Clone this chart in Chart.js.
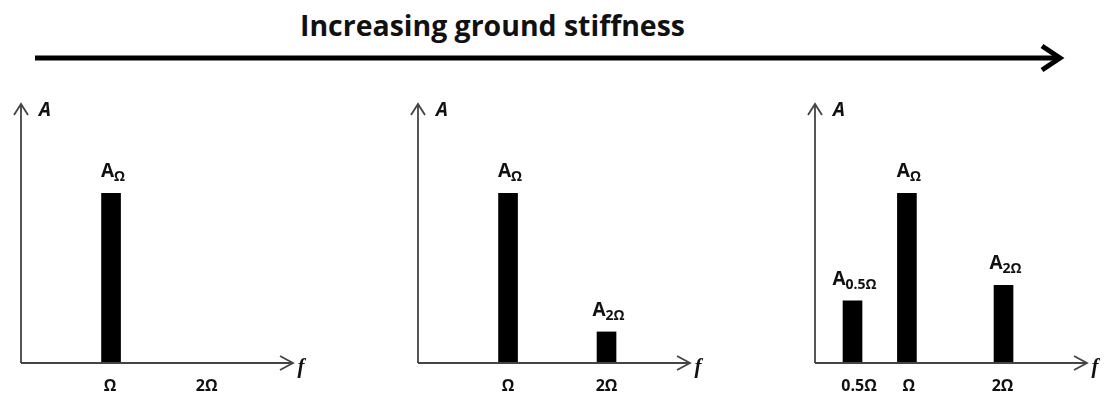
<!DOCTYPE html>
<html>
<head>
<meta charset="utf-8">
<script src="https://cdn.jsdelivr.net/npm/chart.js@4/dist/chart.umd.min.js"></script>
<style>
	html, body { margin: 0; padding: 0; background: #fff; }
	body { width: 1108px; height: 396px; position: relative; overflow: hidden; }
	#title { position: absolute; left: 300px; top: 6px; transform-origin: 0 50%;
		font: bold 28px 'Open Sans', sans-serif; color: #111; white-space: nowrap; line-height: 38px; }
	#arrow { position: absolute; left: 0; top: 0; }
	.panel { position: absolute; top: 90px; width: 310px; height: 306px; }
</style>
</head>
<body>
<div id="title">Increasing ground stiffness</div>
<svg id="arrow" width="1108" height="80">
	<line x1="35" y1="58" x2="1058" y2="58" stroke="#000" stroke-width="5"/>
	<polyline points="1042,46 1060,58 1042,70" fill="none" stroke="#000" stroke-width="5" stroke-linejoin="miter"/>
</svg>
<div class="panel" style="left:1px"><canvas id="panel-1" width="310" height="306"></canvas></div>
<div class="panel" style="left:398px"><canvas id="panel-2" width="310" height="306"></canvas></div>
<div class="panel" style="left:795px"><canvas id="panel-3" width="310" height="306"></canvas></div>
<script>
	// Soft ground: only the driving frequency
	const soft_freq = [0.96];
	const soft_amp = [65.5];
	const soft_sub = ['Ω'];
	const soft_ticks = [0.95, 1.98];
	const soft_tick_labels = ['Ω', '2Ω'];

	// Medium ground: a second harmonic shows up
	const medium_freq = [0.96, 2.01];
	const medium_amp = [65.5, 12];
	const medium_sub = ['Ω', '2Ω'];
	const medium_ticks = [0.96, 2.01];
	const medium_tick_labels = ['Ω', '2Ω'];

	// Stiff ground: sub-harmonic too
	const stiff_freq = [0.40, 0.98, 2.01];
	const stiff_amp = [24, 65.5, 30];
	const stiff_sub = ['0.5Ω', 'Ω', '2Ω'];
	const stiff_ticks = [0.47, 1.0, 2.0];
	const stiff_tick_labels = ['0.5Ω', 'Ω', '2Ω'];

	const FONT = "'Open Sans', sans-serif";
	const AXIS_COLOR = '#444';
	const TEXT_COLOR = '#111';

	// squeeze the title to the width it has in the picture
	const title = document.getElementById('title');
	title.style.transform = 'scaleX(' + (385 / title.offsetWidth) + ')';

	const axesPlugin = {
		id: 'spectrumAxes',
		afterDraw: function (chart) {
			const ctx = chart.ctx;
			const area = chart.chartArea;
			const xScale = chart.scales.x;
			const cfg = chart.options.plugins.spectrumAxes;

			ctx.save();
			ctx.strokeStyle = AXIS_COLOR;
			ctx.lineWidth = 1.8;
			ctx.lineJoin = 'miter';

			// y axis with open arrow head
			ctx.beginPath();
			ctx.moveTo(area.left, area.bottom);
			ctx.lineTo(area.left, area.top);
			ctx.moveTo(area.left - 7, area.top + 11);
			ctx.lineTo(area.left, area.top);
			ctx.lineTo(area.left + 7, area.top + 11);
			ctx.stroke();

			// x axis with open arrow head
			ctx.beginPath();
			ctx.moveTo(area.left, area.bottom);
			ctx.lineTo(area.right, area.bottom);
			ctx.moveTo(area.right - 13, area.bottom - 7);
			ctx.lineTo(area.right, area.bottom);
			ctx.lineTo(area.right - 13, area.bottom + 7);
			ctx.stroke();

			ctx.fillStyle = TEXT_COLOR;
			ctx.textBaseline = 'middle';

			// axis names
			ctx.font = 'italic bold 19px ' + FONT;
			ctx.textAlign = 'center';
			ctx.fillText('A', area.left + 24, area.top + 7);
			ctx.font = "italic bold 21px 'Liberation Serif', serif";
			ctx.fillText('f', area.right + 8, area.bottom + 5);

			// tick labels
			ctx.font = 'bold 16px ' + FONT;
			cfg.ticks.forEach((pos, i) => {
				ctx.fillText(cfg.tickLabels[i], xScale.getPixelForValue(pos), area.bottom + 23);
			});

			// amplitude labels over the bars
			ctx.textBaseline = 'alphabetic';
			ctx.textAlign = 'left';
			const bars = chart.getDatasetMeta(0).data;
			bars.forEach((bar, i) => {
				ctx.font = 'bold 19px ' + FONT;
				const wA = ctx.measureText('A').width;
				ctx.font = 'bold 14px ' + FONT;
				const wS = ctx.measureText(cfg.subs[i]).width;
				const x0 = bar.x - (wA + wS) / 2 + 2;
				const base = bar.y - 16;
				ctx.font = 'bold 19px ' + FONT;
				ctx.fillText('A', x0, base);
				ctx.font = 'bold 14px ' + FONT;
				ctx.fillText(cfg.subs[i], x0 + wA, base + 4);
			});
			ctx.restore();
		}
	};

	function makePanel(id, freq, amp, subs, ticks, tickLabels) {
		const ctx = document.getElementById(id);
		return new Chart(ctx, {
			type: 'bar',
			data: {
				datasets: [{
					data: freq.map((f, i) => ({ x: f, y: amp[i] })),
					backgroundColor: '#000',
					borderWidth: 0,
					barThickness: 19
				}]
			},
			options: {
				responsive: false,
				animation: false,
				layout: {
					padding: { left: 20, top: 14, right: 18, bottom: 33 }
				},
				plugins: {
					legend: { display: false },
					tooltip: { enabled: false },
					spectrumAxes: { subs: subs, ticks: ticks, tickLabels: tickLabels }
				},
				scales: {
					x: { type: 'linear', display: false, min: 0, max: 2.9, offset: false },
					y: { display: false, min: 0, max: 100 }
				}
			},
			plugins: [axesPlugin]
		});
	}

	makePanel('panel-1', soft_freq, soft_amp, soft_sub, soft_ticks, soft_tick_labels);
	makePanel('panel-2', medium_freq, medium_amp, medium_sub, medium_ticks, medium_tick_labels);
	makePanel('panel-3', stiff_freq, stiff_amp, stiff_sub, stiff_ticks, stiff_tick_labels);
</script>
</body>
</html>
